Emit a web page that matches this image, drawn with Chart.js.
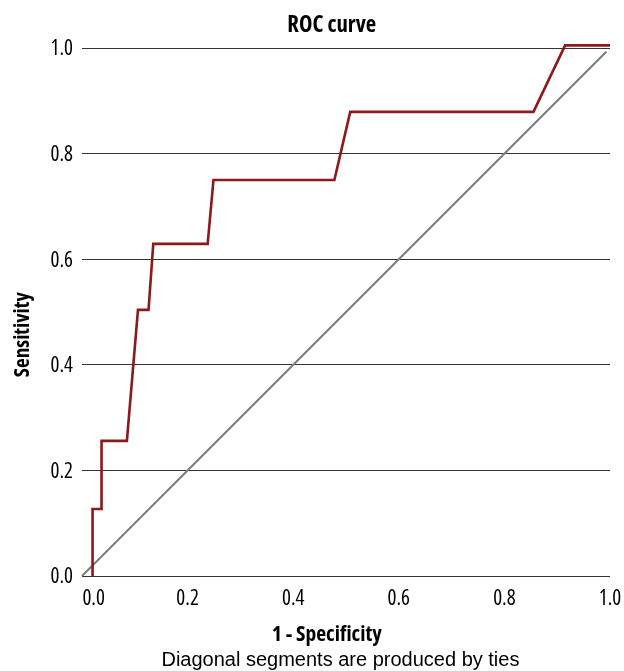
<!DOCTYPE html>
<html><head><meta charset="utf-8">
<script src="https://cdn.jsdelivr.net/npm/chart.js@4.4.1/dist/chart.umd.min.js"></script>
<style>html,body{margin:0;padding:0;background:#fff}</style>
</head><body>
<canvas id="c" width="624" height="671" style="display:block"></canvas>
<script>
const rocFpr = [0.020, 0.020, 0.037, 0.037, 0.085, 0.106, 0.126, 0.135, 0.238, 0.249, 0.478, 0.508, 0.855, 0.915, 1.000];
const rocTpr = [0.000, 0.127, 0.127, 0.256, 0.256, 0.504, 0.504, 0.629, 0.629, 0.750, 0.750, 0.879, 0.879, 1.005, 1.005];
const diagX = [0, 0.993];
const diagY = [0, 0.993];
const xTicks = [0, 0.2, 0.4, 0.6, 0.8, 1.0];
const yTicks = [0, 0.2, 0.4, 0.6, 0.8, 1.0];
const titleText = 'ROC curve';
const xTitle = '1 - Specificity';
const yTitle = 'Sensitivity';
const noteText = 'Diagonal segments are produced by ties';

const COND = '"Open Sans", "Liberation Sans", sans-serif';
const REG = '"Liberation Sans", Arial, sans-serif';
const W_REG = 'condensed normal';
const W_BOLD = 'condensed bold';

const mctx = document.createElement('canvas').getContext('2d');
function measure(text, weight, size, family) { mctx.font = '10px monospace'; mctx.font = weight + ' ' + size + 'px ' + family; return mctx.measureText(text).width; }
function fitSize(text, weight, family, target) { return +(target / measure(text, weight, 100, family) * 100).toFixed(2); }
function padText(text, weight, size, family, shift) {
  const sw = measure(' ', weight, size, family);
  const n = Math.max(0, Math.round(2 * Math.abs(shift) / sw));
  const sp = ' '.repeat(n);
  return shift > 0 ? sp + text : text + sp;
}

const tickSize = fitSize('0.0', W_REG, COND, 22.5);
const titleSize = fitSize(titleText, W_BOLD, COND, 89);
const xTitleSize = fitSize(xTitle, W_BOLD, COND, 110);
const yTitleSize = fitSize(yTitle, W_BOLD, COND, 85);

const titleLabel = padText(titleText, W_BOLD, titleSize, COND, -14.5);
const xTitleLabel = padText(xTitle, W_BOLD, xTitleSize, COND, -19);
const yTitleLabel = padText(yTitle, W_BOLD, yTitleSize, COND, -23.5);
const noteLabel = padText(noteText, 'normal', 20, REG, -5);
const zeroLabel = padText('0.0', W_REG, tickSize, COND, 11);

const toPts = (xs, ys) => xs.map((x, i) => ({x: x, y: ys[i]}));

new Chart(document.getElementById('c'), {
  type: 'scatter',
  data: {
    datasets: [
      {
        data: toPts(rocFpr, rocTpr), showLine: true, borderColor: '#8b1a1a', borderWidth: 2.6,
        pointRadius: 0, pointHoverRadius: 0, tension: 0, clip: 8, order: 0
      },
      {
        data: toPts(diagX, diagY), showLine: true, borderColor: '#808080', borderWidth: 2.2,
        pointRadius: 0, pointHoverRadius: 0, tension: 0, clip: 8, order: 1
      }
    ]
  },
  options: {
    responsive: false,
    animation: false,
    events: [],
    layout: { padding: { left: 0, right: 14, top: 0, bottom: 0 } },
    plugins: {
      legend: { display: false },
      tooltip: { enabled: false },
      title: {
        display: true, text: titleLabel, color: '#000', fullSize: false,
        font: { family: COND, size: titleSize, weight: W_BOLD, lineHeight: 1.2 },
        padding: { top: 26 - 0.6 * titleSize, bottom: 48 - (26 - 0.6 * titleSize) - 1.2 * titleSize }
      },
      subtitle: {
        display: true, position: 'bottom', text: noteLabel, color: '#000', fullSize: false,
        font: { family: REG, size: 20, weight: 'normal', lineHeight: 1.0 },
        padding: { top: 2.5, bottom: 0.5 }
      }
    },
    scales: {
      x: {
        type: 'linear', min: 0, max: 1,
        afterBuildTicks: s => { s.ticks = xTicks.map(v => ({value: v})); },
        afterFit: s => { s.height = 72; s.paddingLeft = 0; s.paddingRight = 0; },
        grid: { display: false },
        border: { display: false },
        ticks: {
          autoSkip: false, maxRotation: 0, color: '#000', padding: 2,
          font: { family: COND, size: tickSize, weight: W_REG, lineHeight: 1.2 },
          callback: v => (Math.abs(v) < 1e-9 ? zeroLabel : Number(v).toFixed(1))
        },
        title: {
          display: true, text: xTitleLabel, color: '#000',
          font: { family: COND, size: xTitleSize, weight: W_BOLD, lineHeight: 1.0 },
          padding: { top: 0, bottom: 2 }
        }
      },
      y: {
        type: 'linear', min: 0, max: 1,
        afterBuildTicks: s => { s.ticks = yTicks.map(v => ({value: v})); },
        afterFit: s => { s.width = 82; },
        grid: { color: '#333', lineWidth: 1, drawTicks: false },
        border: { display: false },
        ticks: {
          autoSkip: false, color: '#000', padding: 9, labelOffset: 1.5,
          font: { family: COND, size: tickSize, weight: W_REG, lineHeight: 1.2 },
          callback: v => Number(v).toFixed(1)
        },
        title: {
          display: true, text: yTitleLabel, color: '#000',
          font: { family: COND, size: yTitleSize, weight: W_BOLD, lineHeight: 1.0 },
          padding: { top: 23 - yTitleSize / 2, bottom: 0 }
        }
      }
    }
  }
});
</script>
</body></html>
